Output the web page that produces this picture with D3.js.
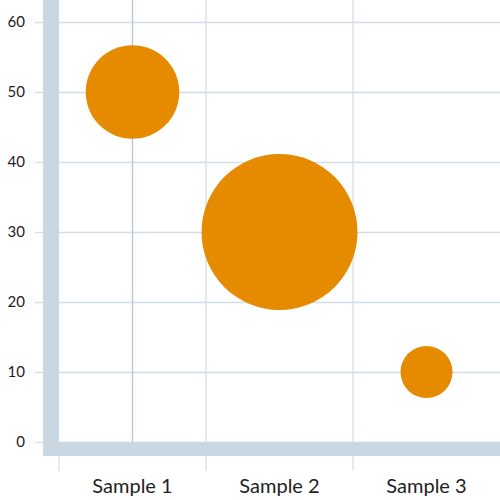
<!DOCTYPE html>
<html>
<head>
<meta charset="utf-8">
<script src="https://cdn.jsdelivr.net/npm/d3@7"></script>
<style>
  body { margin: 0; background: #fff; }
  text { font-family: Lato, "Noto Sans", sans-serif; fill: #222; }
</style>
</head>
<body>
<div id="chart"></div>
<script>
// data
var categories = ["Sample 1", "Sample 2", "Sample 3"];
var yValues = [50, 30, 10];
var sizes = [18, 30, 10];
var yTicks = [0, 10, 20, 30, 40, 50, 60];

// set the dimensions and margins of the graph
var margin = { top: 0, right: 0, bottom: 58, left: 59 },
    width = 500 - margin.left - margin.right,
    height = 500 - margin.top - margin.bottom;

var svg = d3.select("#chart")
    .append("svg")
    .attr("width", 500)
    .attr("height", 500)
    .append("g")
    .attr("transform", "translate(" + margin.left + "," + margin.top + ")");

var x = d3.scaleBand()
    .domain(categories)
    .range([0, width]);

var y = d3.scaleLinear()
    .domain([0, height / 7])
    .range([height, 0]);

var r = d3.scaleLinear()
    .domain([0, 30])
    .range([0, 78]);

// horizontal gridlines
svg.append("g")
    .attr("class", "grid")
    .call(d3.axisLeft(y).tickValues(yTicks).tickSize(-width).tickFormat(""))
    .call(function (g) { g.select(".domain").remove(); })
    .selectAll("line")
    .attr("stroke", "#d3dde7")
    .attr("stroke-width", 1.3);

// vertical gridlines on band edges
svg.append("g")
    .selectAll("line")
    .data(categories.slice(1))
    .enter()
    .append("line")
    .attr("x1", function (d) { return x(d); })
    .attr("x2", function (d) { return x(d); })
    .attr("y1", 0)
    .attr("y2", height + 29)
    .attr("stroke", "#d3dde7")
    .attr("stroke-width", 1.3);

// darker line through first category
svg.append("line")
    .attr("x1", x(categories[0]) + x.bandwidth() / 2)
    .attr("x2", x(categories[0]) + x.bandwidth() / 2)
    .attr("y1", 0)
    .attr("y2", height)
    .attr("stroke", "#b3c6d6")
    .attr("stroke-width", 1.3);

// y tick marks
svg.append("g")
    .call(d3.axisLeft(y).tickValues(yTicks).tickSize(24).tickPadding(10))
    .call(function (g) { g.select(".domain").remove(); })
    .call(function (g) {
        g.selectAll("line").attr("stroke", "#d3dde7").attr("stroke-width", 1.3);
        g.selectAll("text").style("font-size", "15px").attr("fill", "#222");
    });

// thick axis bars
svg.append("rect")
    .attr("x", -16)
    .attr("y", 0)
    .attr("width", 16)
    .attr("height", height + 14)
    .attr("fill", "#c9d7e3");

svg.append("rect")
    .attr("x", -16)
    .attr("y", height)
    .attr("width", width + 16)
    .attr("height", 14)
    .attr("fill", "#c9d7e3");

// bottom tick marks at band edges
svg.append("line")
    .attr("x1", 0).attr("x2", 0)
    .attr("y1", height + 14).attr("y2", height + 29)
    .attr("stroke", "#d3dde7")
    .attr("stroke-width", 1.3);

// x labels
svg.append("g")
    .selectAll("text")
    .data(categories)
    .enter()
    .append("text")
    .attr("x", function (d) { return x(d) + x.bandwidth() / 2; })
    .attr("y", height + 51)
    .attr("text-anchor", "middle")
    .style("font-size", "20px")
    .text(function (d) { return d; });

// bubbles
svg.append("g")
    .selectAll("circle")
    .data(categories)
    .enter()
    .append("circle")
    .attr("cx", function (d) { return x(d) + x.bandwidth() / 2; })
    .attr("cy", function (d, i) { return y(yValues[i]); })
    .attr("r", function (d, i) { return r(sizes[i]); })
    .attr("fill", "#e68a00");
</script>
</body>
</html>
